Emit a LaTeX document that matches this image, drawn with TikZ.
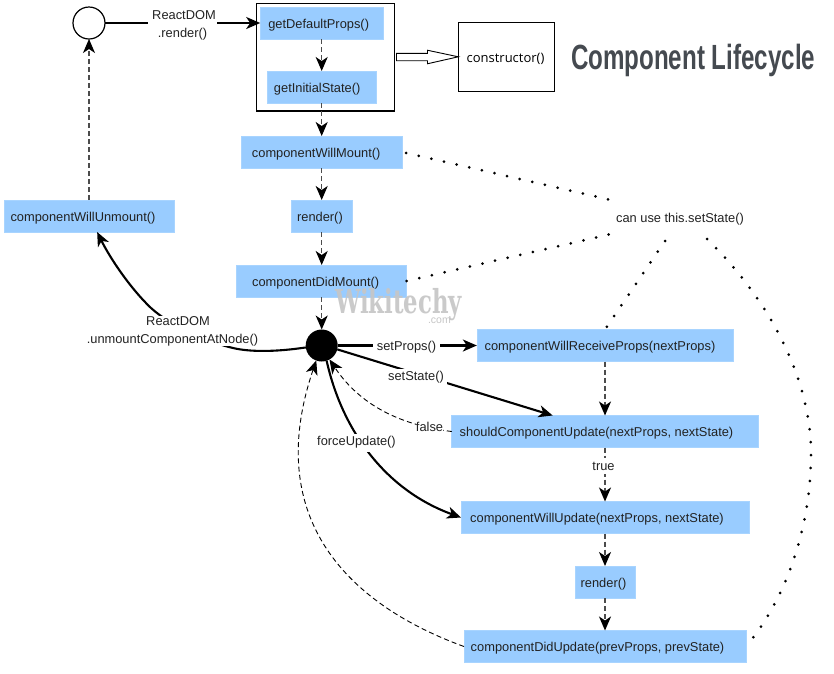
\documentclass[tikz,border=0pt]{standalone}
\usepackage{fontspec}
\setmainfont{Liberation Sans}
\newfontfamily\consfont{Open Sans}
\newfontfamily\wmfont{DejaVu Serif}
\usetikzlibrary{arrows.meta,calc}
\definecolor{boxblue}{HTML}{99CCFF}
\definecolor{boxedge}{HTML}{A8D4FF}
\definecolor{txt}{HTML}{222222}
\definecolor{titlec}{HTML}{454A50}
\definecolor{wmc}{HTML}{C6C6C6}
\newcommand{\shifted}[2]{\hspace*{#1pt}\raisebox{-2pt}[\height][\depth]{#2}}
\tikzset{
  basefont/.style={font=\fontsize{12.85}{18}\selectfont, text=txt},
  bluebox/.style={basefont, rectangle, fill=boxblue, draw=boxedge, line width=0.6pt, inner sep=0pt, outer sep=0pt, minimum height=32pt},
  lbl/.style={basefont, fill=white, inner xsep=0pt, inner ysep=0pt, outer sep=0pt, align=center},
  endtip/.style={-{Stealth[length=14pt,width=12pt,inset=4pt,color=black]}},
  solidarrow/.style={endtip, line width=2.1pt, black},
  flow/.style={endtip, line width=1.3pt, color=black!70, dash pattern=on 5pt off 3pt},
  thindash/.style={endtip, line width=0.9pt, black, dash pattern=on 5pt off 3.2pt},
  dotline/.style={line width=3pt, black, line cap=round, dash pattern=on 0pt off 12.95pt},
  roundnode/.style={circle, inner sep=0pt, outer sep=0pt, minimum size=32pt}
}
\begin{document}
\begin{tikzpicture}[x=1pt,y=-1pt]
\useasboundingbox (0,0) rectangle (834,673);
\fill[white] (0,0) rectangle (834,673);
% frames
\node[draw=black, line width=1.2pt, inner sep=0pt, outer sep=0pt, minimum width=138pt, minimum height=107.5pt] (outer) at (325.5,57.25) {};
\node[draw=black, line width=1.2pt, inner sep=0pt, outer sep=0pt, minimum width=96.4pt, minimum height=69pt, font=\consfont\fontsize{13}{14}\selectfont] (cons) at (506.5,56.8) {\shifted{-2}{constructor()}};
% blue boxes
\node[bluebox, minimum width=123pt] (gdp) at (321.7,23) {\shifted{-6}{getDefaultProps()}};
\node[bluebox, minimum width=109pt] (gis) at (321.7,87) {\shifted{-9}{getInitialState()}};
\node[bluebox, minimum width=161pt] (cwm) at (321.7,152) {\shifted{-11}{componentWillMount()}};
\node[bluebox, minimum width=60.5pt] (rnd) at (321.7,216) {\shifted{-3.5}{render()}};
\node[bluebox, minimum width=170pt] (cdm) at (321.7,281) {\shifted{-12}{componentDidMount()}};
\node[bluebox, minimum width=170pt] (cwu) at (89,216) {\shifted{-12}{componentWillUnmount()}};
\node[bluebox, minimum width=256.3pt] (cwrp) at (605,345.5) {\shifted{-10}{componentWillReceiveProps(nextProps)}};
\node[bluebox, minimum width=306.5pt] (scu) at (605,431.5) {\shifted{-17}{shouldComponentUpdate(nextProps, nextState)}};
\node[bluebox, minimum width=288pt] (cwup) at (605,517.5) {\shifted{-16}{componentWillUpdate(nextProps, nextState)}};
\node[bluebox, minimum width=60pt] (rnd2) at (605,582) {\shifted{-3}{render()}};
\node[bluebox, minimum width=282pt] (cdup) at (605,646.5) {\shifted{-15}{componentDidUpdate(prevProps, prevState)}};
% circles
\node[roundnode, draw=black, line width=1.2pt, fill=white] (start) at (89,23) {};
\node[roundnode, fill=black] (hub) at (321.7,345.5) {};
% hollow arrow
\draw[black, line width=0.9pt, fill=white] ($(outer.east)+(2,-3.9)$) -- ($(outer.east)+(33,-3.9)$) -- ($(outer.east)+(33,-7)$) -- (cons.west) -- ($(outer.east)+(33,6.5)$) -- ($(outer.east)+(33,3.5)$) -- ($(outer.east)+(2,3.5)$) -- cycle;
% flow
\draw[flow] (gdp.south) -- (gis.north);
\draw[flow] (gis.south) -- (cwm.north);
\draw[flow] (cwm.south) -- (rnd.north);
\draw[flow] (rnd.south) -- (cdm.north);
\draw[flow] (cdm.south) -- (hub.north);
\draw[flow] (cwu.north) -- (start.south);
\draw[flow] (cwrp.south) -- (scu.north);
\draw[flow] (scu.south) -- (cwup.north);
\draw[flow] (cwup.south) -- (rnd2.north);
\draw[flow] (rnd2.south) -- (cdup.north);
% solid
\draw[solidarrow] (start.east) -- (gdp.west);
\draw[solidarrow] (hub.east) -- (cwrp.west);
\draw[solidarrow] (hub.-14) -- (scu.163.3);
\draw[solidarrow] (hub.-72) .. controls (342,430) and (385,490) .. (cwup.west);
\draw[solidarrow] (hub.187) .. controls (275,352) and (250,352) .. (233,348) .. controls (200,340) and (170,325) .. (151,308) .. controls (130,288) and (110,258) .. (cwu.-63);
% thin dashed
\draw[thindash] (scu.west) .. controls (400,425) and (360,405) .. (hub.-61);
\draw[thindash] (cdup.west) .. controls (350,605) and (262,520) .. (hub.-110);
% labels
\node[lbl, minimum width=69pt] (lrender) at (182.5,25.5) {\hspace*{3pt}ReactDOM\\.render()};
\node[lbl, minimum width=172pt] (lunmount) at (172.5,331) {\hspace*{11pt}ReactDOM\\.unmountComponentAtNode()};
\node[lbl, minimum width=67pt, minimum height=16pt] (lprops) at (406.5,347.5) {setProps()};
\node[lbl, minimum width=62pt, minimum height=16pt] (lstate) at (416,377) {setState()};
\node[lbl, minimum width=26pt, minimum height=16pt] (lfalse) at (429.5,426.7) {false};
\node[lbl, minimum width=80pt, minimum height=18pt] (lforce) at (356.5,442.5) {forceUpdate()};
\node[lbl, minimum width=26pt, minimum height=16pt] (ltrue) at (603.5,466) {true};
% dotted
\node[basefont, inner sep=0pt, outer sep=0pt, minimum width=128pt, minimum height=30pt] (cus) at (680,217) {\shifted{0}{can use this.setState()}};
\draw[dotline, shorten <=4pt] (cwm.east) -- (cus.166);
\draw[dotline] (cdm.east) -- (cus.194);
\draw[dotline] ($(cus.south)+(-15,9)$) -- ($(cwrp.north)+(1.7,-2.5)$);
\draw[dotline] ($(cus.south)+(27,7)$) .. controls (770,300) and (811,380) .. (811,453) .. controls (811,530) and (785,600) .. (cdup.east);
% title and watermark
\node[inner sep=0pt, outer sep=0pt, anchor=base west, text=titlec, xscale=0.69, font=\bfseries\fontsize{35}{40}\selectfont] (title) at (571,69.5) {Component Lifecycle};
\node[inner sep=0pt, outer sep=0pt, anchor=base west, text=wmc, xscale=0.69, opacity=0.92, font=\wmfont\bfseries\fontsize{33}{40}\selectfont] (wm) at (335,313) {Wikitechy};
\node[inner sep=0pt, outer sep=0pt, anchor=base west, text=wmc, font=\fontsize{10.5}{12}\selectfont] (wmcom) at (428,323) {.com};
\end{tikzpicture}
\end{document}
